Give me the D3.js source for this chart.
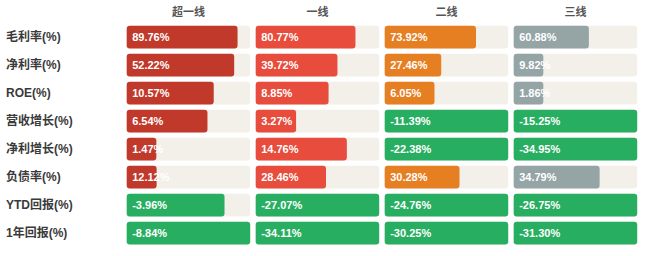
<!DOCTYPE html>
<html><head><meta charset="utf-8">
<script src="https://cdn.jsdelivr.net/npm/d3@7/dist/d3.min.js"></script>
<style>
html,body{margin:0;padding:0;background:#fff;}
svg{display:block;font-family:"Liberation Sans",Arial,"Noto Sans CJK SC",sans-serif;}
</style></head>
<body><svg id="c" width="650" height="256"></svg>
<script>
const tiers = ["超一线", "一线", "二线", "三线"];
const metrics = ["毛利率(%)", "净利率(%)", "ROE(%)", "营收增长(%)", "净利增长(%)", "负债率(%)", "YTD回报(%)", "1年回报(%)"];
const superTier = [89.76, 52.22, 10.57, 6.54, 1.47, 12.12, -3.96, -8.84];
const tier1 = [80.77, 39.72, 8.85, 3.27, 14.76, 28.46, -27.07, -34.11];
const tier2 = [73.92, 27.46, 6.05, -11.39, -22.38, 30.28, -24.76, -30.25];
const tier3 = [60.88, 9.82, 1.86, -15.25, -34.95, 34.79, -26.75, -31.30];
const rowScaleMax = [100, 60, 15, 10, 20, 50, 5, 5];
const series = [superTier, tier1, tier2, tier3];
const tierColors = ["#c0392b", "#e74c3c", "#e67e22", "#95a5a6"];
const negColor = "#27ae60";
const bgColor = "#f3f0ea";

const svg = d3.select("#c");
const x0 = d3.scaleBand().domain(tiers).range([126.7, 637.2]).paddingInner(0.0426).paddingOuter(0);
const y = d3.scaleBand().domain(metrics).range([25.7, 244.4]).paddingInner(0.19).paddingOuter(0);
const cw = x0.bandwidth();

svg.selectAll("text.hdr").data(tiers).join("text")
  .attr("class","hdr")
  .attr("x", d => x0(d) + cw/2).attr("y", 12)
  .attr("dy","0.35em").attr("text-anchor","middle")
  .attr("font-size", 11).attr("font-weight", 700).attr("fill", "#555")
  .text(d => d);

svg.selectAll("text.lbl").data(metrics).join("text")
  .attr("class","lbl")
  .attr("x", 6).attr("y", d => y(d) + y.bandwidth()/2)
  .attr("dy","0.35em")
  .attr("font-size", 12).attr("font-weight", 600).attr("fill", "#3a3a3a")
  .text(d => d);

const cells = [];
tiers.forEach((t, ti) => metrics.forEach((m, mi) => cells.push({t, ti, m, mi, v: series[ti][mi]})));

const g = svg.append("g");
g.selectAll("rect.bg").data(cells).join("rect")
  .attr("class","bg")
  .attr("x", d => x0(d.t)).attr("y", d => y(d.m))
  .attr("width", cw).attr("height", y.bandwidth())
  .attr("rx", 3).attr("fill", bgColor);

g.selectAll("rect.bar").data(cells).join("rect")
  .attr("class","bar")
  .attr("x", d => x0(d.t)).attr("y", d => y(d.m))
  .attr("width", d => {
    const s = d3.scaleLinear().domain([0, rowScaleMax[d.mi]]).range([0, cw]).clamp(true);
    return Math.max(s(Math.abs(d.v)), 0.24 * cw);
  })
  .attr("height", y.bandwidth())
  .attr("rx", 3)
  .attr("fill", d => d.v < 0 ? negColor : tierColors[d.ti]);

g.selectAll("text.val").data(cells).join("text")
  .attr("class","val")
  .attr("x", d => x0(d.t) + 5.5).attr("y", d => y(d.m) + y.bandwidth()/2)
  .attr("dy","0.35em")
  .attr("font-size", 11).attr("font-weight", 700).attr("fill", "#fff")
  .text(d => d.v.toFixed(2) + "%");
</script></body></html>
